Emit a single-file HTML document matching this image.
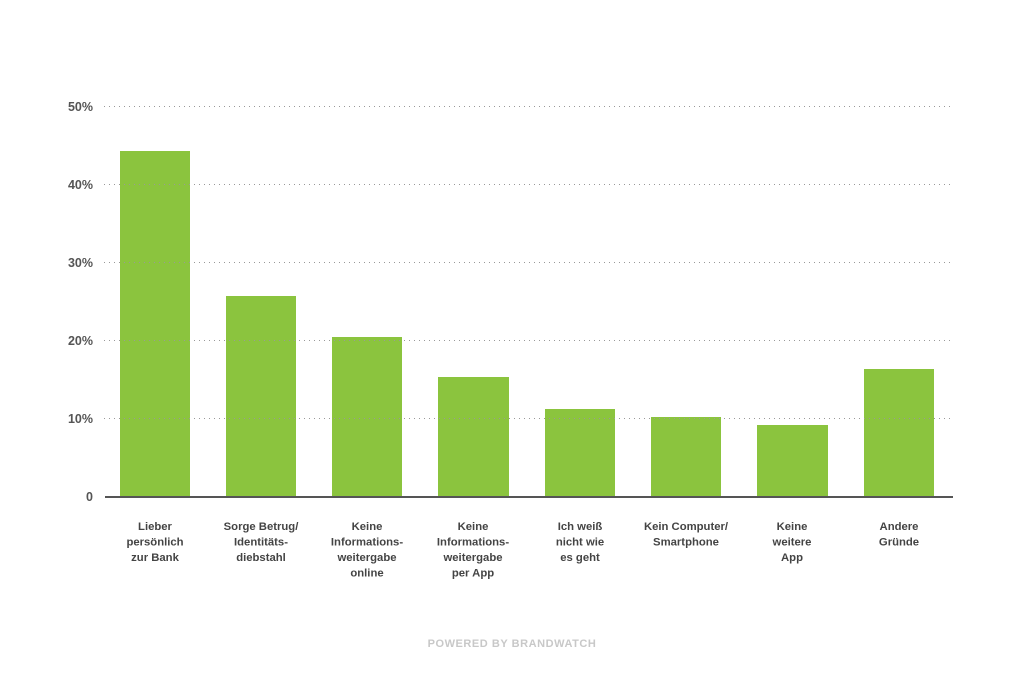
<!DOCTYPE html>
<html><head><meta charset="utf-8"><style>
html,body{margin:0;padding:0;background:#fff;}
svg{display:block;font-family:"Liberation Sans",sans-serif;}
</style></head><body>
<svg width="1024" height="679" viewBox="0 0 1024 679" xmlns="http://www.w3.org/2000/svg">
<g fill="#8bc43e">
<rect x="120" y="151" width="70" height="345"/>
<rect x="226" y="296" width="70" height="200"/>
<rect x="332" y="337" width="70" height="159"/>
<rect x="438" y="377" width="71" height="119"/>
<rect x="545" y="409" width="70" height="87"/>
<rect x="651" y="417" width="70" height="79"/>
<rect x="757" y="425" width="71" height="71"/>
<rect x="864" y="369" width="70" height="127"/>
</g>
<g stroke="#999" stroke-width="1" stroke-dasharray="1,4">
<line x1="104" y1="106.5" x2="953" y2="106.5"/>
<line x1="104" y1="184.5" x2="953" y2="184.5"/>
<line x1="104" y1="262.5" x2="953" y2="262.5"/>
<line x1="104" y1="340.5" x2="953" y2="340.5"/>
<line x1="104" y1="418.5" x2="953" y2="418.5"/>
</g>
<line x1="105" y1="497" x2="953" y2="497" stroke="#555" stroke-width="2"/>
<g font-size="12.5" font-weight="bold" fill="#555" text-anchor="end">
<text x="93" y="111">50%</text>
<text x="93" y="189">40%</text>
<text x="93" y="267">30%</text>
<text x="93" y="345">20%</text>
<text x="93" y="423">10%</text>
<text x="93" y="501">0</text>
</g>
<g font-size="11.3" font-weight="bold" fill="#444" text-anchor="middle">
<text x="155" y="530">Lieber</text><text x="155" y="545.5">persönlich</text><text x="155" y="561">zur Bank</text>
<text x="261" y="530">Sorge Betrug/</text><text x="261" y="545.5">Identitäts-</text><text x="261" y="561">diebstahl</text>
<text x="367" y="530">Keine</text><text x="367" y="545.5">Informations-</text><text x="367" y="561">weitergabe</text><text x="367" y="576.5">online</text>
<text x="473" y="530">Keine</text><text x="473" y="545.5">Informations-</text><text x="473" y="561">weitergabe</text><text x="473" y="576.5">per App</text>
<text x="580" y="530">Ich weiß</text><text x="580" y="545.5">nicht wie</text><text x="580" y="561">es geht</text>
<text x="686" y="530">Kein Computer/</text><text x="686" y="545.5">Smartphone</text>
<text x="792" y="530">Keine</text><text x="792" y="545.5">weitere</text><text x="792" y="561">App</text>
<text x="899" y="530">Andere</text><text x="899" y="545.5">Gründe</text>
</g>
<text x="512" y="647" font-size="11" font-weight="bold" fill="#c8c8c8" text-anchor="middle" letter-spacing="0.55">POWERED BY BRANDWATCH</text>
</svg>
</body></html>
